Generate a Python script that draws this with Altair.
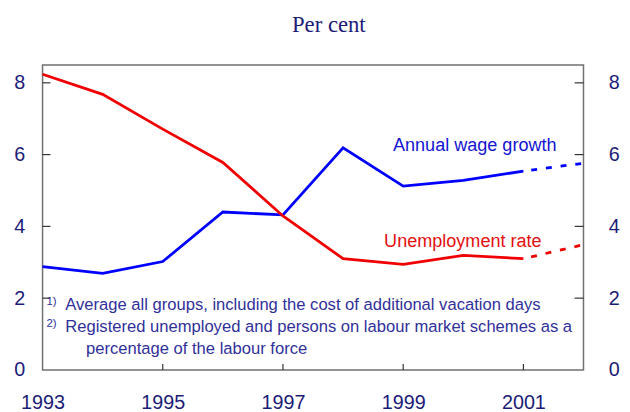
import altair as alt
import pandas as pd

# ---- data ----
years = [1993, 1994, 1995, 1996, 1997, 1998, 1999, 2000, 2001, 2002]
wage_growth = [2.88, 2.69, 3.02, 4.40, 4.32, 6.19, 5.12, 5.28, 5.54, 5.76]
unemployment = [8.24, 7.68, 6.71, 5.78, 4.29, 3.10, 2.94, 3.19, 3.10, 3.49]
last_actual_year = 2001
series_keys = ["wage", "unemp"]
series_labels = ["Annual wage growth", "Unemployment rate"]
y_tick_values = [0, 2, 4, 6, 8]
x_label_values = [1993, 1995, 1997, 1999, 2001]
x_tick_marks = [1995, 1997, 1999, 2001]
subtitle = "Per cent"
footnote_marks = ["1)", "2)"]
footnote_lines = [
    "Average all groups, including the cost of additional vacation days",
    "Registered unemployed and persons on labour market schemes as a",
    "percentage of the labour force",
]

NAVY = "#1c1c78"
FOOT = "#30309a"
BLUE = "#0000ff"
RED = "#f00000"
SANS = "Liberation Sans"

rows = []
for yr, w, u in zip(years, wage_growth, unemployment):
    rows.append({"year": yr, "value": w, "series": series_keys[0]})
    rows.append({"year": yr, "value": u, "series": series_keys[1]})
df = pd.DataFrame(rows)
solid_df = df[df["year"] <= last_actual_year]
dashed_df = df[df["year"] >= last_actual_year]

xscale = alt.Scale(domain=[years[0], years[-1]], nice=False, zero=False)
yscale = alt.Scale(domain=[0, 8.5], nice=False, zero=True)
color = alt.Color(
    "series:N",
    scale=alt.Scale(domain=series_keys, range=[BLUE, RED]),
    legend=None,
)

x_axis = alt.Axis(
    values=x_label_values, format="d", ticks=False, tickSize=0,
    labelPadding=23, labelFontSize=20, labelFont=SANS, labelColor=NAVY,
    domain=False, grid=False, title=None, labelFlush=False,
)
y_left = alt.Axis(
    values=y_tick_values, orient="left", ticks=False, tickSize=0,
    labelPadding=18, labelFontSize=20, labelFont=SANS, labelColor=NAVY,
    domain=False, grid=False, title=None, labelFlush=False,
)
y_right = alt.Axis(
    values=y_tick_values, orient="right", ticks=False, tickSize=0,
    labelPadding=25, labelFontSize=20, labelFont=SANS, labelColor=NAVY,
    domain=False, grid=False, title=None, labelFlush=False,
)

X = alt.X("year:Q", scale=xscale, axis=x_axis)

solid = alt.Chart(solid_df).mark_line(strokeWidth=2.8).encode(
    x=X,
    y=alt.Y("value:Q", scale=yscale, axis=y_left),
    color=color,
    detail="series:N",
)
dashed = alt.Chart(dashed_df).mark_line(strokeWidth=2.8, strokeDash=[6, 9], strokeDashOffset=-8).encode(
    x=X,
    y=alt.Y("value:Q", scale=yscale, axis=y_right),
    color=color,
    detail="series:N",
)

ytick_df = pd.DataFrame({"v": [v for v in y_tick_values if v > 0]})
left_ticks = alt.Chart(ytick_df).mark_rule(color="#333333", strokeWidth=1.2).encode(
    y=alt.Y("v:Q", scale=yscale, axis=None),
    x=alt.value(0), x2=alt.value(8),
)
right_ticks = alt.Chart(ytick_df).mark_rule(color="#333333", strokeWidth=1.2).encode(
    y=alt.Y("v:Q", scale=yscale, axis=None),
    x=alt.value(539), x2=alt.value(548),
)
xtick_df = pd.DataFrame({"year": x_tick_marks})
bottom_ticks = alt.Chart(xtick_df).mark_rule(color="#333333", strokeWidth=1.2).encode(
    x=X,
    y=alt.value(309), y2=alt.value(303),
)


def text_layer(txt, x, y, size, color, font=SANS, align="left"):
    return alt.Chart(pd.DataFrame({"t": [txt]})).mark_text(
        font=font, fontSize=size, color=color, align=align, baseline="alphabetic"
    ).encode(text="t:N", x=alt.value(x), y=alt.value(y))


title_txt = text_layer(subtitle, 290, -33, 23, NAVY, font="Liberation Serif", align="center")
lab_wage = text_layer(series_labels[0], 355, 87, 18.3, "#1414d2")
lab_unemp = text_layer(series_labels[1], 346, 184, 18.3, "#e41010")
fn1m = text_layer(footnote_marks[0], 4, 243, 11.5, FOOT)
fn1 = text_layer(footnote_lines[0], 23, 248, 16.8, FOOT)
fn2m = text_layer(footnote_marks[1], 4, 266, 11.5, FOOT)
fn2 = text_layer(footnote_lines[1], 23, 271, 16.8, FOOT)
fn3 = text_layer(footnote_lines[2], 44, 293, 16.8, FOOT)

chart = alt.layer(
    solid, dashed, left_ticks, right_ticks, bottom_ticks,
    title_txt, lab_wage, lab_unemp, fn1m, fn1, fn2m, fn2, fn3,
).resolve_scale(y="shared", x="shared").resolve_axis(y="independent").properties(
    width=548, height=309,
    autosize=alt.AutoSizeParams(type="none"),
    padding={"left": 35, "top": 55, "right": 39, "bottom": 40},
    background="white",
).configure_view(stroke="#707070", strokeWidth=1.5)

chart.save("out.html", embed_options={"renderer": "svg", "actions": False})
